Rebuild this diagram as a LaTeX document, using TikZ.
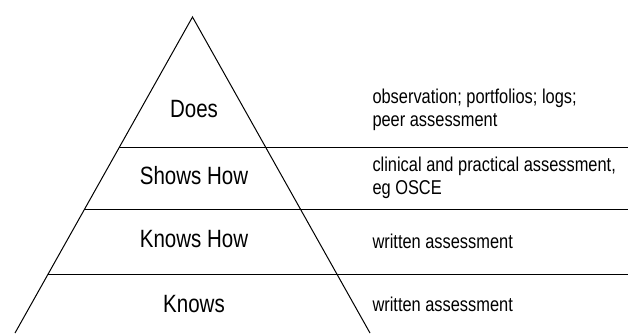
\documentclass[tikz,border=0pt]{standalone}
\usepackage{fontspec}
\setmainfont{Liberation Sans}[FakeStretch=0.82]
\usetikzlibrary{positioning,calc}

\begin{document}
\begin{tikzpicture}[x=1pt, y=-1pt, line width=1pt,
    level/.style={font=\fontsize{25}{27}\selectfont},
    method/.style={font=\fontsize{20}{22.5}\selectfont, align=left, anchor=west, inner sep=0pt}]
  \useasboundingbox (0,0) rectangle (628,333);
  % corners of the pyramid
  \coordinate (top) at (192.5,17);
  \coordinate (bl) at (15,333);
  \coordinate (br) at (370,333);
  \coordinate (re) at (628,0);
  \draw (bl) -- (top) -- (br);

  % lines between the levels
  \foreach \t/\n in {0.4114/a, 0.6076/b, 0.8133/c} {
    \coordinate (l\n) at ($(top)!\t!(bl)$);
    \draw (l\n) -- (l\n -| re);
  }

  % levels of the pyramid
  \node[level] (does) at (194,109) {Does};
  \node[level] (shows) at (194,176) {Shows How};
  \node[level] (knowshow) at (194,239) {Knows How};
  \node[level] (knows) at (194,304) {Knows};

  % ways of assessing each level
  \node[method] (obs) at (372,110) {observation; portfolios; logs;\\peer assessment};
  \node[method] (clin) at (372,178) {clinical and practical assessment,\\eg OSCE};
  \node[method] (wr1) at (372,241) {written assessment};
  \node[method] (wr2) at (372,304) {written assessment};
\end{tikzpicture}
\end{document}
